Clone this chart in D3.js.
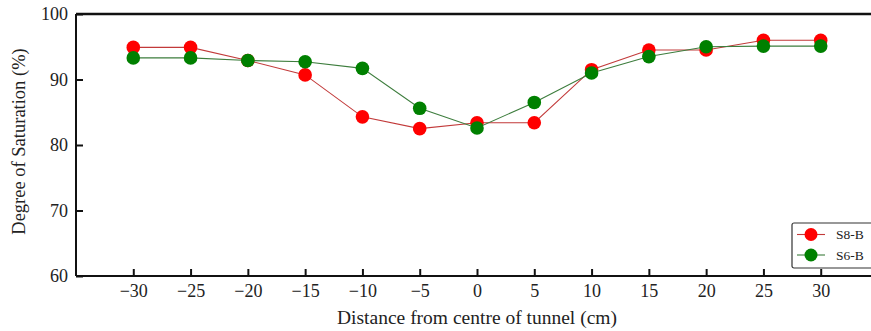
<!DOCTYPE html>
<html>
<head>
<meta charset="utf-8">
<script src="https://cdn.jsdelivr.net/npm/d3@7"></script>
<style>
  html, body { margin: 0; padding: 0; background: #fff; }
  svg text { font-family: "Liberation Serif", "Times New Roman", Times, "DejaVu Serif", serif !important; }
</style>
</head>
<body>
<svg id="chart" width="871" height="331"></svg>
<script>
// Distance positions (cm) and degree of saturation (%) for each test
const distances = [-30, -25, -20, -15, -10, -5, 0, 5, 10, 15, 20, 25, 30];
const s8b = [94.9, 94.9, 92.9, 90.7, 84.3, 82.5, 83.4, 83.4, 91.5, 94.5, 94.5, 96.0, 96.0];
const s6b = [93.3, 93.3, 92.9, 92.7, 91.7, 85.6, 82.6, 86.5, 91.0, 93.5, 95.0, 95.1, 95.1];
const xTicks = [-30, -25, -20, -15, -10, -5, 0, 5, 10, 15, 20, 25, 30];
const yTicks = [60, 70, 80, 90, 100];
const seriesNames = ["S8-B", "S6-B"];

const series = [
  { name: seriesNames[0], values: s8b, fill: "#ff0000", line: "#c23a3a" },
  { name: seriesNames[1], values: s6b, fill: "#008000", line: "#3d7d3d" }
];

const svg = d3.select("#chart");
const plotL = 76, plotR = 878, plotT = 14, plotB = 276;

const x = d3.scaleLinear().domain([-35, 35]).range([plotL, plotR]);
const y = d3.scaleLinear().domain([60, 100]).range([plotB, plotT]);

// frame: top and right borders
svg.append("line").attr("x1", plotL).attr("x2", plotR).attr("y1", plotT).attr("y2", plotT)
  .attr("stroke", "#111").attr("stroke-width", 2.5);
svg.append("line").attr("x1", plotR).attr("x2", plotR).attr("y1", plotT).attr("y2", plotB)
  .attr("stroke", "#111").attr("stroke-width", 2);

// bottom axis with inward ticks
const xAxis = svg.append("g").attr("transform", `translate(0,${plotB})`)
  .call(d3.axisBottom(x).tickValues(xTicks).tickSize(-7).tickPadding(8)
    .tickFormat(d => d < 0 ? "\u2212" + Math.abs(d) : d));
xAxis.attr("font-family", null);
xAxis.select(".domain").attr("stroke", "#111").attr("stroke-width", 2).attr("d", `M${plotL},0H${plotR}`);
xAxis.selectAll(".tick line").attr("stroke", "#111").attr("stroke-width", 2);
xAxis.selectAll(".tick text").attr("fill", "#222").style("font-size", "18px");

// left axis with inward ticks
const yAxis = svg.append("g").attr("transform", `translate(${plotL},0)`)
  .call(d3.axisLeft(y).tickValues(yTicks).tickSize(-7).tickPadding(8));
yAxis.attr("font-family", null);
yAxis.select(".domain").attr("stroke", "#111").attr("stroke-width", 2).attr("d", `M0,${plotT}V${plotB}`);
yAxis.selectAll(".tick line").attr("stroke", "#111").attr("stroke-width", 2);
yAxis.selectAll(".tick text").attr("fill", "#222").style("font-size", "18px");

// axis titles
svg.append("text").attr("x", 477).attr("y", 324).attr("text-anchor", "middle")
  .attr("fill", "#222").style("font-size", "19.5px").text("Distance from centre of tunnel (cm)");
svg.append("text").attr("transform", "translate(25,141.5) rotate(-90)")
  .attr("text-anchor", "middle").attr("fill", "#222").style("font-size", "18.5px")
  .text("Degree of Saturation (%)");

// series lines and markers
const lineGen = d3.line().x((d, i) => x(distances[i])).y(d => y(d));
series.forEach(s => {
  svg.append("path").datum(s.values).attr("d", lineGen)
    .attr("fill", "none").attr("stroke", s.line).attr("stroke-width", 1.1);
  svg.append("g").selectAll("circle").data(s.values).join("circle")
    .attr("cx", (d, i) => x(distances[i])).attr("cy", d => y(d)).attr("r", 6.8)
    .attr("fill", s.fill);
});

// legend
const lg = svg.append("g").attr("transform", "translate(792,223)");
lg.append("rect").attr("x", 0).attr("y", 0).attr("width", 100).attr("height", 45).attr("rx", 2)
  .attr("fill", "#fff").attr("stroke", "#333").attr("stroke-width", 1.2);
series.forEach((s, i) => {
  const cy = 11.5 + i * 20.5;
  lg.append("line").attr("x1", 5).attr("x2", 33).attr("y1", cy).attr("y2", cy)
    .attr("stroke", s.line).attr("stroke-width", 1.1);
  lg.append("circle").attr("cx", 19).attr("cy", cy).attr("r", 6.5).attr("fill", s.fill);
  lg.append("text").attr("x", 44).attr("y", cy + 4.5).attr("fill", "#222")
    .style("font-size", "13.5px").text(s.name);
});
</script>
</body>
</html>
